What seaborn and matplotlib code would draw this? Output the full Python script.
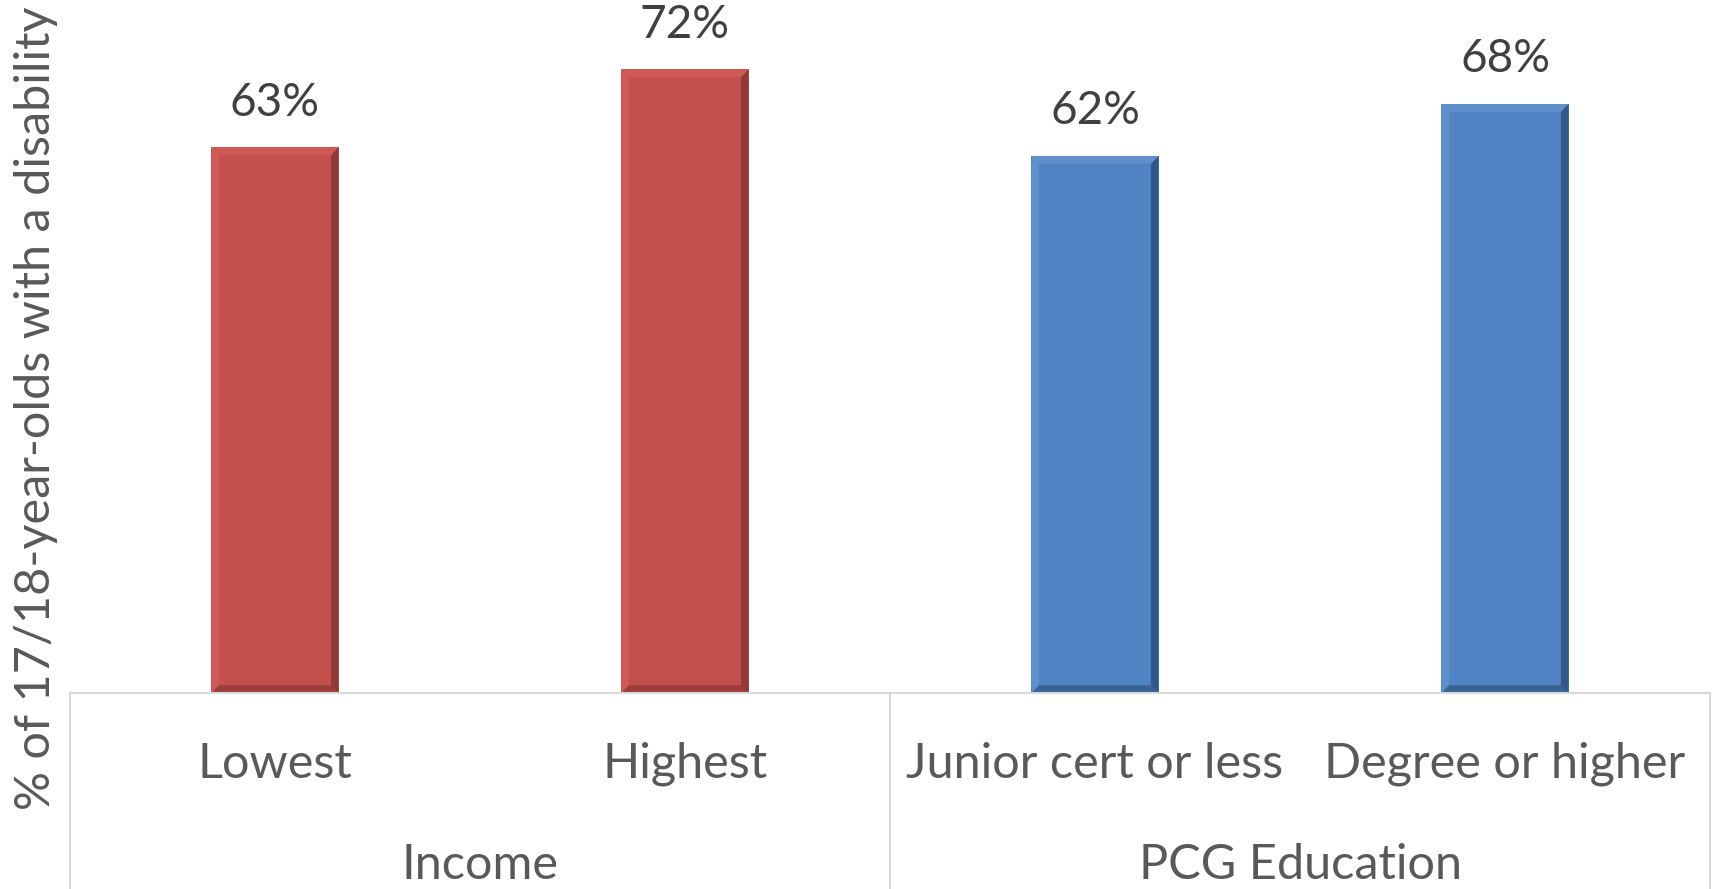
import matplotlib
matplotlib.use("Agg")
import matplotlib.pyplot as plt
import matplotlib.transforms as mtransforms
from matplotlib.patches import Polygon
import seaborn as sns
import pandas as pd

categories = ["Lowest", "Highest", "Junior cert or less", "Degree or higher"]
groups = ["Income", "Income", "PCG Education", "PCG Education"]
values = [63, 72, 62, 68]
group_names = ["Income", "PCG Education"]
colors = {"Income": "#C4504E", "PCG Education": "#4F83C4"}
ylabel = "% of 17/18-year-olds with a disability"

sns.set_theme(style="white")
plt.rcParams["font.family"] = ["Lato", "DejaVu Sans"]

df = pd.DataFrame({"cat": categories, "group": groups, "val": values})

W, H = 1717, 889
fig = plt.figure(figsize=(W / 100, H / 100), dpi=100)
ax = fig.add_axes([70 / W, (H - 693) / H, 1640 / W, 693 / H])

sns.barplot(data=df, x="cat", y="val", hue="group", palette=colors, dodge=False,
            width=0.31, legend=False, ax=ax, saturation=1, linewidth=0)
ax.set_ylim(0, 80)
ax.set_xlim(-0.5, 3.5)
for s in ax.spines.values():
    s.set_visible(False)
ax.set_xticks([])
ax.set_yticks([])
ax.set_xlabel("")
ax.set_ylabel("")

# soft bevel effect on bars, from bar geometry
dark = {"#C4504E": "#6e2a28", "#4F83C4": "#1f3b60"}
light = {"#C4504E": "#d9605d", "#4F83C4": "#6a9ad3"}
for p, g in zip(ax.patches, groups):
    x0, y0 = p.get_x(), p.get_y()
    w, h = p.get_width(), p.get_height()
    bx = w * 0.06
    by = 0.9
    c = colors[g]
    polys = [
        ([(x0, y0), (x0 + bx, y0 + by), (x0 + bx, y0 + h - by), (x0, y0 + h)], light[c], 0.6),
        ([(x0 + w, y0), (x0 + w - bx, y0 + by), (x0 + w - bx, y0 + h - by), (x0 + w, y0 + h)], dark[c], 0.6),
        ([(x0, y0), (x0 + w, y0), (x0 + w - bx, y0 + by), (x0 + bx, y0 + by)], dark[c], 0.45),
        ([(x0, y0 + h), (x0 + w, y0 + h), (x0 + w - bx, y0 + h - by), (x0 + bx, y0 + h - by)], light[c], 0.6),
    ]
    for pts, col, a in polys:
        ax.add_patch(Polygon(pts, closed=True, facecolor=col, edgecolor="none", alpha=a))

# value labels
for i, v in enumerate(values):
    ax.annotate(f"{v}%", (i, v), xytext=(0, 17), textcoords="offset points",
                ha="center", va="bottom", fontsize=33, color="#404040")

trans = mtransforms.blended_transform_factory(ax.transData, ax.transAxes)
for i, c in enumerate(categories):
    ax.text(i, -0.102, c, transform=trans, ha="center", va="center",
            fontsize=35, color="#595959")
for j, gname in enumerate(group_names):
    ax.text(j * 2 + 0.5, -0.248, gname, transform=trans, ha="center", va="center",
            fontsize=35, color="#595959")

line_col = "#D9D9D9"
ax.plot([-0.5, 3.5], [0, 0], transform=trans, color=line_col, lw=1.5, clip_on=False)
for xv in [-0.5, 1.5, 3.5]:
    ax.plot([xv, xv], [0, -0.3], transform=trans, color=line_col, lw=1.5, clip_on=False)

fig.text(36 / W, 1 - 408 / H, ylabel, rotation=90, ha="center", va="center",
         fontsize=35, color="#595959")

fig.savefig("out.png", dpi=100, facecolor="white")
